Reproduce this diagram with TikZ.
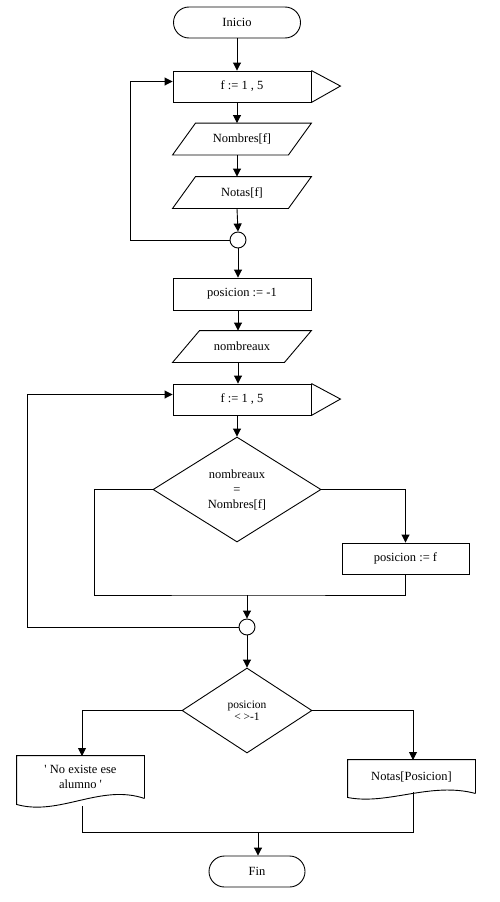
\documentclass[tikz,border=0pt]{standalone}
\usepackage{fontspec}
\setmainfont{Liberation Serif}
\usetikzlibrary{shapes.geometric,shapes.misc,arrows.meta,calc}
\begin{document}
\begin{tikzpicture}[x=1pt,y=-1pt,
  line width=0.9pt,
  every node/.style={font=\fontsize{12.5}{15}\selectfont},
  arr/.style={-{Triangle[length=8pt,width=8pt]}},
  term/.style={draw,rounded rectangle,minimum height=31pt,inner sep=0pt},
  box/.style={draw,rectangle,minimum height=31pt,inner sep=0pt},
  iobox/.style={rectangle,minimum width=138pt,minimum height=31pt,inner sep=0pt},
  docbox/.style={rectangle,minimum width=127pt,inner sep=0pt,align=center},
  conn/.style={draw,circle,minimum size=16pt,inner sep=0pt},
  dec/.style={draw,diamond,inner sep=0pt,align=center}]
\useasboundingbox (0,0) rectangle (499,902);

\node[term,minimum width=127pt] (inicio) at (237,22.5) {Inicio};
\node[box,minimum width=138pt] (loop1) at (242,86.5) {f := 1 , 5};
\draw (loop1.north east) -- ++(29,15.5) -- (loop1.south east);
\node[iobox] (p1) at (242,139) {Nombres[f]};
\draw (p1.south west) -- ($(p1.north west)+(23,0)$) -- (p1.north east) -- ($(p1.south east)+(-23,0)$) -- cycle;
\node[iobox] (p2) at (242,192.5) {Notas[f]};
\draw (p2.south west) -- ($(p2.north west)+(23,0)$) -- (p2.north east) -- ($(p2.south east)+(-23,0)$) -- cycle;
\node[conn] (c1) at (238,240) {};

\node[box,minimum width=138pt,minimum height=32pt] (asig1) at (242,294) {posicion := -1};
\node[iobox] (p3) at (242,346.5) {nombreaux};
\draw (p3.south west) -- ($(p3.north west)+(27,0)$) -- (p3.north east) -- ($(p3.south east)+(-27,0)$) -- cycle;
\node[box,minimum width=138pt] (loop2) at (242,399.5) {f := 1 , 5};
\draw (loop2.north east) -- ++(29,15.5) -- (loop2.south east);

\node[dec,minimum width=168pt,minimum height=105pt,aspect=1.6] (d1) at (237,489.5) {nombreaux\\=\\Nombres[f]};
\node[box,minimum width=127pt] (asig2) at (405.5,558.5) {posicion := f};
\coordinate (m1) at (247,595);
\node[conn] (c2) at (247,627) {};

\node[dec,minimum width=130pt,minimum height=85pt,aspect=1.53,font=\fontsize{11.5}{12.5}\selectfont] (d2) at (247,710.5) {posicion\\< >-1};

\node[docbox,minimum height=42pt] (doc1) at (80.5,777) {\textquotesingle{} No existe ese\\alumno \textquotesingle};
\draw (doc1.south east) -- (doc1.north east) -- (doc1.north west) -- ($(doc1.south west)+(0,6)$)
  .. controls ($(doc1.south west)+(43,18)$) and ($(doc1.south east)+(-44,-15)$) .. (doc1.south east);
\node[docbox,minimum height=33pt] (doc2) at (411.5,776.5) {Notas[Posicion]};
\draw ($(doc2.south east)+(0,0)$) -- (doc2.north east) -- (doc2.north west) -- ($(doc2.south west)+(0,4)$)
  .. controls ($(doc2.south west)+(40,12)$) and ($(doc2.south east)+(-45,-12)$) .. (doc2.south east);
\coordinate (m2) at (258,832);
\node[term,minimum width=96pt] (fin) at (257,871.5) {Fin};

% connectors
\draw[arr] (inicio.south) -- (inicio.south |- loop1.north);
\draw[arr] (inicio.south |- loop1.south) -- (inicio.south |- p1.north);
\draw[arr] (inicio.south |- p1.south) -- (inicio.south |- p2.north);
\draw[arr] (inicio.south |- p2.south) -- (c1.north);
\draw[arr] (c1.west) -- (130,240) |- ($(loop1.west)+(0,-5)$);
\draw[arr] (c1.south) -- (c1.south |- asig1.north);
\draw[arr] (c1.south |- asig1.south) -- (c1.south |- p3.north);
\draw[arr] (c1.south |- p3.south) -- (c1.south |- loop2.north);
\draw[arr] (d1.north |- loop2.south) -- (d1.north);
\draw[arr] (d1.east) -| (asig2.north);
\draw (d1.west) -- (94,489.5) |- (m1) -| (asig2.south);
\draw[arr] (m1) -- (c2.north);
\draw[arr] (c2.west) -- (27,627) |- ($(loop2.west)+(0,-5)$);
\draw[arr] (c2.south) -- (d2.north);
\draw[arr] (d2.west) -| (82,756);
\draw[arr] (d2.east) -| (413,760);
\draw ($(doc1.south)+(1.5,8)$) |- (m2) -| ($(doc2.south)+(1.5,-1)$);
\draw[arr] (m2) -- (m2 |- fin.north);
\end{tikzpicture}
\end{document}
